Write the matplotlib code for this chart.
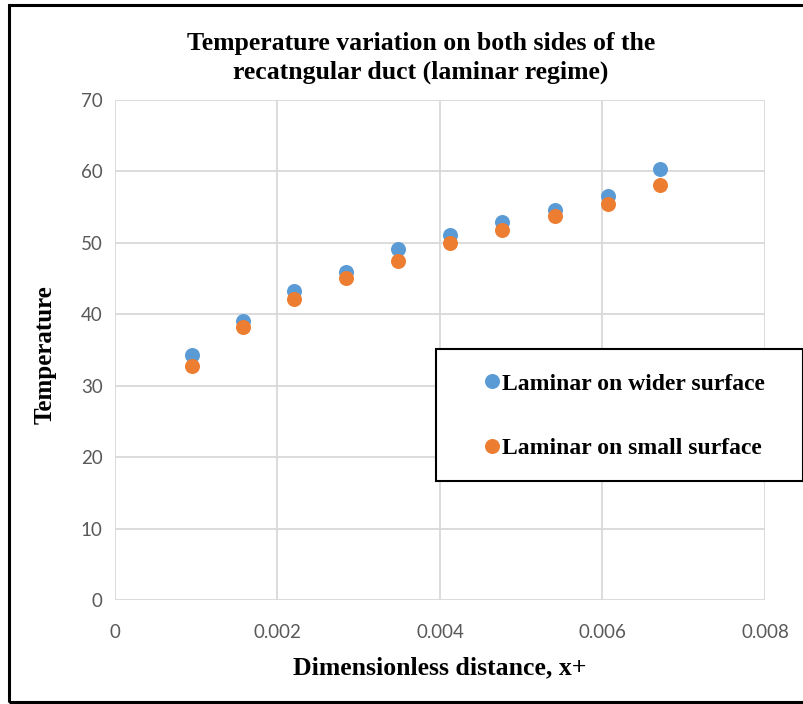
import matplotlib
matplotlib.use("Agg")
import matplotlib.pyplot as plt
from matplotlib.patches import Rectangle
from matplotlib.lines import Line2D

# Data
x_plus = [0.000948, 0.001575, 0.002207, 0.002846, 0.003483,
          0.004127, 0.004767, 0.005411, 0.006063, 0.006711]
temp_wider = [34.3, 39.0, 43.2, 45.9, 49.1, 51.1, 52.9, 54.6, 56.5, 60.3]
temp_small = [32.7, 38.2, 42.2, 45.1, 47.4, 50.0, 51.8, 53.8, 55.4, 58.1]

x_ticks = [0, 0.002, 0.004, 0.006, 0.008]
x_tick_labels = ["0", "0.002", "0.004", "0.006", "0.008"]
y_ticks = [0, 10, 20, 30, 40, 50, 60, 70]

label_wider = "Laminar on wider surface"
label_small = "Laminar on small surface"

blue = "#5B9BD5"
orange = "#ED7D31"
grid_col = "#D9D9D9"
tick_col = "#595959"
serif = ["Liberation Serif", "DejaVu Serif"]

fig = plt.figure(figsize=(8.04, 7.04), dpi=100)
ax = fig.add_axes([115 / 804, 104 / 704, 650 / 804, 500 / 704])

ax.plot(x_plus, temp_wider, "o", color=blue, markersize=10.8, markeredgewidth=0,
        zorder=3, clip_on=False)
ax.plot(x_plus, temp_small, "o", color=orange, markersize=10.8, markeredgewidth=0,
        zorder=4, clip_on=False)

ax.set_xlim(0, 0.008)
ax.set_ylim(0, 70)
ax.set_xticks(x_ticks)
ax.set_xticklabels(x_tick_labels)
ax.set_yticks(y_ticks)
ax.grid(True, color=grid_col, linewidth=1.3)
ax.set_axisbelow(True)
for s in ax.spines.values():
    s.set_visible(False)
ax.tick_params(length=0, labelsize=13.5, labelcolor=tick_col)
ax.tick_params(axis="x", pad=17)
ax.tick_params(axis="y", pad=9)
for lab in ax.get_xticklabels() + ax.get_yticklabels():
    lab.set_fontfamily("Lato")

fig.text(421 / 804, 1 - 58 / 704,
         "Temperature variation on both sides of the\nrecatngular duct (laminar regime)",
         ha="center", va="center", fontsize=18.5, fontweight="bold",
         family=serif, linespacing=1.3)
fig.text(440 / 804, 1 - 668 / 704, "Dimensionless distance, x+", ha="center",
         va="center", fontsize=18.5, fontweight="bold", family=serif)
fig.text(45 / 804, 1 - 355 / 704, "Temperature", ha="center", va="center",
         rotation=90, fontsize=18, fontweight="bold", family=serif)

# legend box
fig.patches.append(Rectangle((436 / 804, 1 - 481 / 704), 367 / 804, 132 / 704,
                             transform=fig.transFigure, fill=True,
                             facecolor="white", edgecolor="black", linewidth=1.5,
                             zorder=5))
handles = [Line2D([], [], marker="o", linestyle="", color=blue, markersize=10.8,
                  markeredgewidth=0),
           Line2D([], [], marker="o", linestyle="", color=orange, markersize=10.8,
                  markeredgewidth=0)]
leg = fig.legend(handles, [label_wider, label_small], loc="center left",
                 bbox_to_anchor=(462 / 804, 1 - 416 / 704), frameon=False,
                 prop={"family": serif, "weight": "bold", "size": 17},
                 handletextpad=-0.3, labelspacing=1.8, handlelength=1.5,
                 borderpad=0)
leg.set_zorder(6)

# outer frame
fig.patches.append(Rectangle((9 / 804, 2 / 704), 810 / 804, 697 / 704,
                             transform=fig.transFigure, fill=False,
                             edgecolor="black", linewidth=2.2))

fig.savefig("out.png", dpi=100)
